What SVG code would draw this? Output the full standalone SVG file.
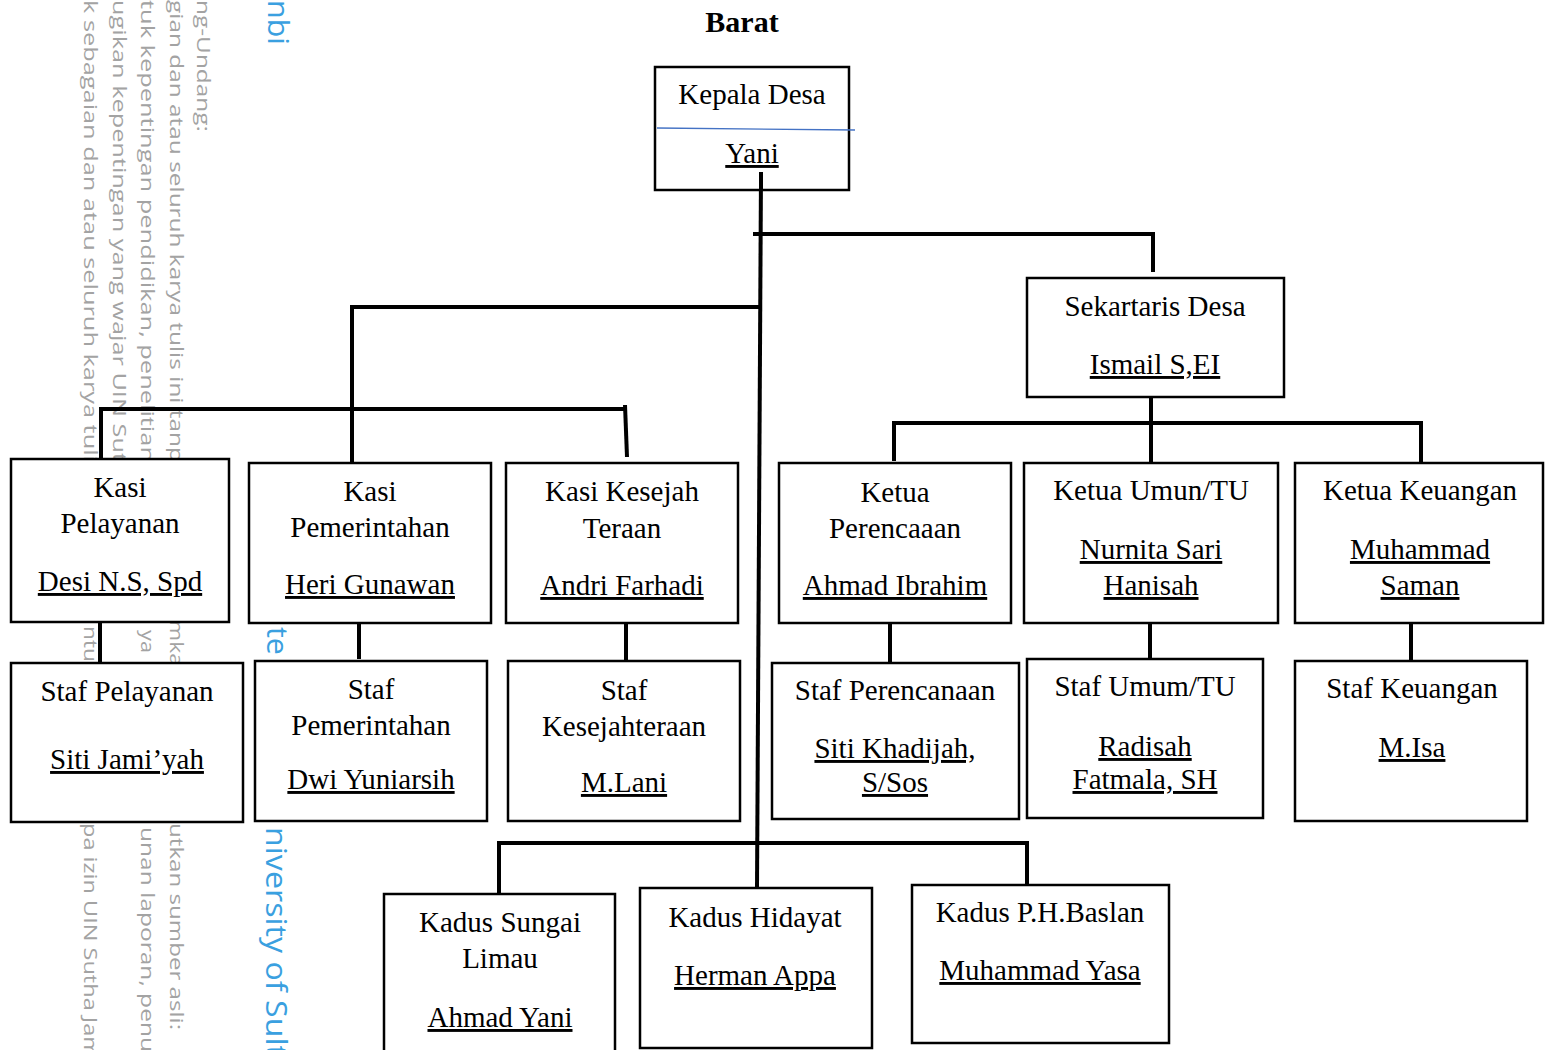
<svg xmlns="http://www.w3.org/2000/svg" width="1547" height="1050" viewBox="0 0 1547 1050">
<style>
.box{fill:#fff;stroke:#000;stroke-width:2.5}
.t{font-family:"Liberation Serif","Times New Roman",serif;font-size:29px;fill:#000;text-anchor:middle}
.u{text-decoration:underline;text-decoration-skip-ink:none}
.title{font-family:"Liberation Serif","Times New Roman",serif;font-size:30px;font-weight:bold;fill:#000;text-anchor:middle}
.con{fill:none;stroke:#000;stroke-width:4;stroke-linecap:butt}
.wm{font-family:"Open Sans","Noto Sans",sans-serif;font-size:18px;fill:#a3a3a3}
.wb{font-family:"Open Sans","Noto Sans",sans-serif;font-size:30px;fill:#3aa0e0}
</style>
<rect x="0" y="0" width="1547" height="1050" fill="#fff"/>
<g id="watermark">
<text class="wm" transform="translate(197,0) rotate(90)" textLength="132" lengthAdjust="spacingAndGlyphs">ng-Undang:</text>
<text class="wm" transform="translate(170,0) rotate(90)" textLength="462" lengthAdjust="spacingAndGlyphs">gian dan atau seluruh karya tulis ini tanp</text>
<text class="wm" transform="translate(141,0) rotate(90)" textLength="462" lengthAdjust="spacingAndGlyphs">tuk kepentingan pendidikan, penelitian</text>
<text class="wm" transform="translate(113,0) rotate(90)" textLength="462" lengthAdjust="spacingAndGlyphs">ugikan kepentingan yang wajar UIN Sut</text>
<text class="wm" transform="translate(84,0) rotate(90)" textLength="462" lengthAdjust="spacingAndGlyphs">k sebagaian dan atau seluruh karya tuli</text>
<text class="wm" transform="translate(170,620) rotate(90)" textLength="46" lengthAdjust="spacingAndGlyphs">mka</text>
<text class="wm" transform="translate(170,823) rotate(90)" textLength="207" lengthAdjust="spacingAndGlyphs">utkan sumber asli:</text>
<text class="wm" transform="translate(141,630) rotate(90)" textLength="23" lengthAdjust="spacingAndGlyphs">ya</text>
<text class="wm" transform="translate(141,827) rotate(90)" textLength="225" lengthAdjust="spacingAndGlyphs">unan laporan, penu</text>
<text class="wm" transform="translate(84,626) rotate(90)" textLength="36" lengthAdjust="spacingAndGlyphs">ntu</text>
<text class="wm" transform="translate(84,823) rotate(90)" textLength="235" lengthAdjust="spacingAndGlyphs">pa izin UIN Sutha Jam</text>
<text class="wb" transform="translate(268,0) rotate(90)" textLength="45" lengthAdjust="spacingAndGlyphs">nbi</text>
<text class="wb" transform="translate(267,627) rotate(90)" textLength="28" lengthAdjust="spacingAndGlyphs">te</text>
<text class="wb" transform="translate(266,827) rotate(90)" textLength="230" lengthAdjust="spacingAndGlyphs">niversity of Sult</text>
</g>
<text class="title" x="742" y="32">Barat</text>
<g id="connectors">
<path class="con" d="M761,172 L757,888"/>
<path class="con" d="M753,234 H1153 V272"/>
<path class="con" d="M352,307 H760"/>
<path class="con" d="M352,305 V462"/>
<path class="con" d="M99,409 H627"/>
<path class="con" d="M101,407 V458"/>
<path class="con" d="M625,405 L627,457"/>
<path class="con" d="M1151,395 V462"/>
<path class="con" d="M892,423 H1421 V462"/>
<path class="con" d="M894,421 V461"/>
<path class="con" d="M100,622 V663"/>
<path class="con" d="M359,620 V659"/>
<path class="con" d="M626,623 V661"/>
<path class="con" d="M890,623 V663"/>
<path class="con" d="M1150,623 V661"/>
<path class="con" d="M1411,623 V661"/>
<path class="con" d="M497,843 H1027 V885"/>
<path class="con" d="M499,841 V894"/>
</g>
<g id="kepala-desa">
<rect class="box" x="655" y="67" width="194" height="123"/>
<line x1="657" y1="128" x2="855" y2="130" stroke="#4472c4" stroke-width="1.3"/>
<text class="t" x="752" y="104">Kepala Desa</text>
<text class="t u" x="752" y="163">Yani</text>
</g>
<path class="con" d="M761,172 V190"/>
<g id="sekretaris-desa">
<rect class="box" x="1027" y="278" width="257" height="119"/>
<text class="t" x="1155" y="316">Sekartaris Desa</text>
<text class="t u" x="1155" y="374">Ismail S,EI</text>
</g>
<g id="kasi-pelayanan">
<rect class="box" x="11" y="459" width="218" height="163"/>
<text class="t" x="120" y="497">Kasi</text>
<text class="t" x="120" y="533">Pelayanan</text>
<text class="t u" x="120" y="591">Desi N.S, Spd</text>
</g>
<g id="kasi-pemerintahan">
<rect class="box" x="249" y="463" width="242" height="160"/>
<text class="t" x="370" y="501">Kasi</text>
<text class="t" x="370" y="537">Pemerintahan</text>
<text class="t u" x="370" y="594">Heri Gunawan</text>
</g>
<g id="kasi-kesejahteraan">
<rect class="box" x="506" y="463" width="232" height="160"/>
<text class="t" x="622" y="501">Kasi Kesejah</text>
<text class="t" x="622" y="538">Teraan</text>
<text class="t u" x="622" y="595">Andri Farhadi</text>
</g>
<g id="ketua-perencanaan">
<rect class="box" x="779" y="463" width="232" height="160"/>
<text class="t" x="895" y="502">Ketua</text>
<text class="t" x="895" y="538">Perencaaan</text>
<text class="t u" x="895" y="595">Ahmad Ibrahim</text>
</g>
<g id="ketua-umum">
<rect class="box" x="1024" y="463" width="254" height="160"/>
<text class="t" x="1151" y="500">Ketua Umun/TU</text>
<text class="t u" x="1151" y="559">Nurnita Sari</text>
<text class="t u" x="1151" y="595">Hanisah</text>
</g>
<g id="ketua-keuangan">
<rect class="box" x="1295" y="463" width="248" height="160"/>
<text class="t" x="1420" y="500">Ketua Keuangan</text>
<text class="t u" x="1420" y="559">Muhammad</text>
<text class="t u" x="1420" y="595">Saman</text>
</g>
<g id="staf-pelayanan">
<rect class="box" x="11" y="663" width="232" height="159"/>
<text class="t" x="127" y="701">Staf Pelayanan</text>
<text class="t u" x="127" y="769">Siti Jami’yah</text>
</g>
<g id="staf-pemerintahan">
<rect class="box" x="255" y="661" width="232" height="160"/>
<text class="t" x="371" y="699">Staf</text>
<text class="t" x="371" y="735">Pemerintahan</text>
<text class="t u" x="371" y="789">Dwi Yuniarsih</text>
</g>
<g id="staf-kesejahteraan">
<rect class="box" x="508" y="661" width="232" height="160"/>
<text class="t" x="624" y="700">Staf</text>
<text class="t" x="624" y="736">Kesejahteraan</text>
<text class="t u" x="624" y="792">M.Lani</text>
</g>
<g id="staf-perencanaan">
<rect class="box" x="772" y="663" width="247" height="156"/>
<text class="t" x="895" y="700">Staf Perencanaan</text>
<text class="t u" x="895" y="758">Siti Khadijah,</text>
<text class="t u" x="895" y="792">S/Sos</text>
</g>
<g id="staf-umum">
<rect class="box" x="1027" y="659" width="236" height="159"/>
<text class="t" x="1145" y="696">Staf Umum/TU</text>
<text class="t u" x="1145" y="756">Radisah</text>
<text class="t u" x="1145" y="789">Fatmala, SH</text>
</g>
<g id="staf-keuangan">
<rect class="box" x="1295" y="661" width="232" height="160"/>
<text class="t" x="1412" y="698">Staf Keuangan</text>
<text class="t u" x="1412" y="757">M.Isa</text>
</g>
<g id="kadus-sungai-limau">
<rect class="box" x="384" y="894" width="231" height="170"/>
<text class="t" x="500" y="932">Kadus Sungai</text>
<text class="t" x="500" y="968">Limau</text>
<text class="t u" x="500" y="1027">Ahmad Yani</text>
</g>
<g id="kadus-hidayat">
<rect class="box" x="640" y="888" width="232" height="160"/>
<text class="t" x="755" y="927">Kadus Hidayat</text>
<text class="t u" x="755" y="985">Herman Appa</text>
</g>
<g id="kadus-baslan">
<rect class="box" x="912" y="885" width="257" height="158"/>
<text class="t" x="1040" y="922">Kadus P.H.Baslan</text>
<text class="t u" x="1040" y="980">Muhammad Yasa</text>
</g>
</svg>
